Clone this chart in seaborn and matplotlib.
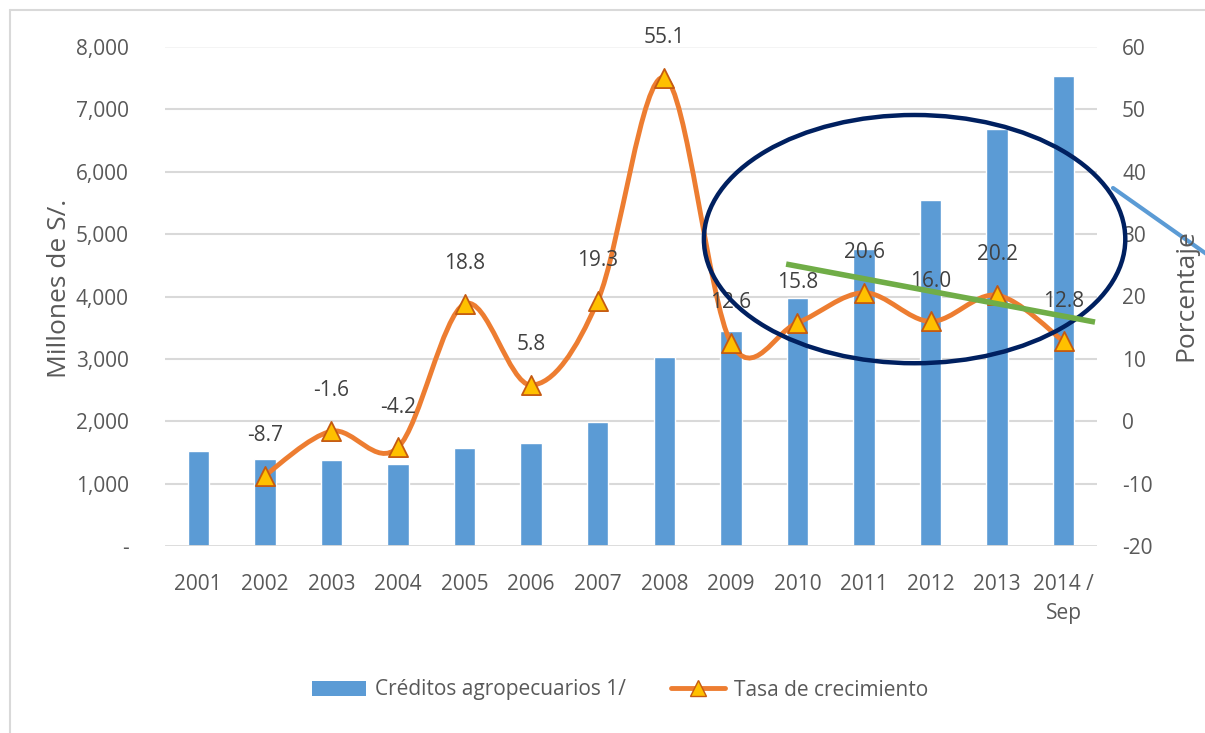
import numpy as np
import matplotlib
matplotlib.use("Agg")
import matplotlib.pyplot as plt
from matplotlib.path import Path
from matplotlib.patches import PathPatch, Ellipse, Patch
from matplotlib.lines import Line2D
from matplotlib import font_manager
import seaborn as sns

# ── data ──────────────────────────────────────────────────────────
years = ["2001", "2002", "2003", "2004", "2005", "2006", "2007",
         "2008", "2009", "2010", "2011", "2012", "2013", "2014 /\nSep"]
creditos = [1530, 1400, 1375, 1320, 1570, 1650, 1980,
            3030, 3440, 3980, 4760, 5540, 6680, 7530]
tasa = [None, -8.7, -1.6, -4.2, 18.8, 5.8, 19.3,
        55.1, 12.6, 15.8, 20.6, 16.0, 20.2, 12.8]
left_ticks = [0, 1000, 2000, 3000, 4000, 5000, 6000, 7000, 8000]
left_labels = ["-", "1,000", "2,000", "3,000", "4,000",
               "5,000", "6,000", "7,000", "8,000"]
right_ticks = [-20, -10, 0, 10, 20, 30, 40, 50, 60]

BLUE   = "#5B9BD5"
ORANGE = "#ED7D31"
GOLD   = "#FFC000"
EDGE   = "#C55A11"
NAVY   = "#002060"
GREEN  = "#70AD47"
GRID   = "#D9D9D9"
TXT    = "#595959"
LBL    = "#404040"

sns.set_theme(style="white")
installed = {f.name for f in font_manager.fontManager.ttflist}
fam = [f for f in ["Liberation Sans Narrow", "Open Sans", "DejaVu Sans"] if f in installed]
plt.rcParams["font.family"] = fam
plt.rcParams["axes.unicode_minus"] = False

W, H = 1205, 733
fig = plt.figure(figsize=(W / 100, H / 100), dpi=100)
ax = fig.add_axes([165 / W, 1 - 546 / H, (1097 - 165) / W, (546 - 47) / H])

# ── bars ──────────────────────────────────────────────────────────
xs = np.arange(len(years))
sns.barplot(x=xs, y=creditos, color=BLUE, width=0.32, saturation=1,
            ax=ax, zorder=2)
ax.set_xlim(-0.5, len(years) - 0.5)
ax.set_ylim(0, 8000)
ax.set_yticks(left_ticks)
ax.set_yticklabels(left_labels)
ax.set_xticks(xs)
ax.set_xticklabels(years, linespacing=1.5)
ax.tick_params(axis="y", colors=TXT, labelsize=15, length=0, pad=26)
ax.tick_params(axis="x", colors=TXT, labelsize=15, length=0, pad=20)
for y in left_ticks[1:-1]:
    ax.axhline(y, color=GRID, lw=1.5, zorder=0)
ax.axhline(8000, color="#F2F2F2", lw=1.2, zorder=0)
ax.axhline(0, color=GRID, lw=2, zorder=3)
for s in ax.spines.values():
    s.set_visible(False)
ax.set_xlabel("")
ax.set_ylabel("")

# ── growth-rate line on secondary axis ─────────────────────────────
ax2 = ax.twinx()
ax2.set_ylim(-20, 60)
ax2.set_yticks(right_ticks)
ax2.tick_params(axis="y", colors=TXT, labelsize=15, length=0, pad=18)
for s in ax2.spines.values():
    s.set_visible(False)
ax2.grid(False)

px = np.array([x for x, v in zip(xs, tasa) if v is not None], float)
py = np.array([v for v in tasa if v is not None], float)
# Excel-style smoothed line: cubic Bezier segments through the points
verts = [(px[0], py[0])]
codes = [Path.MOVETO]
n = len(px)
for i in range(n - 1):
    p0 = np.array([px[max(i - 1, 0)], py[max(i - 1, 0)]])
    p1 = np.array([px[i], py[i]])
    p2 = np.array([px[i + 1], py[i + 1]])
    p3 = np.array([px[min(i + 2, n - 1)], py[min(i + 2, n - 1)]])
    c1 = p1 + (p2 - p0) / 6
    c2 = p2 - (p3 - p1) / 6
    verts += [tuple(c1), tuple(c2), tuple(p2)]
    codes += [Path.CURVE4] * 3
ax2.add_patch(PathPatch(Path(verts, codes), fill=False, edgecolor=ORANGE,
                        lw=3.5, capstyle="round", zorder=4))
sns.scatterplot(x=px, y=py, marker="^", s=190, color=GOLD, edgecolor=EDGE,
                linewidth=1.3, ax=ax2, zorder=5)
for x, v in zip(px, py):
    ax2.annotate(f"{v:.1f}", (x, v), xytext=(0, 29), textcoords="offset points",
                 ha="center", va="center", fontsize=15, color=LBL, zorder=6)

# ── highlights ────────────────────────────────────────────────────
ax2.add_patch(Ellipse((10.76, 29.2), 6.33, 39.8, fill=False, edgecolor=NAVY,
                      lw=3.2, zorder=7, clip_on=False))
ax2.plot([8.83, 13.47], [25.2, 15.9], color=GREEN, lw=4, zorder=8,
         solid_capstyle="butt", clip_on=False)
fig.add_artist(Line2D([1113 / W, 1215 / W], [1 - 188 / H, 1 - 260 / H],
                      color=BLUE, lw=3))

# ── frame, axis titles, legend ───────────────────────────────────
fig.add_artist(Line2D([10 / W, 10 / W], [0, 1 - 10 / H], color=GRID, lw=1.5))
fig.add_artist(Line2D([10 / W, 1], [1 - 10 / H, 1 - 10 / H], color=GRID, lw=1.5))
fig.text(60 / W, 1 - 288 / H, "Millones de S/.", rotation=90, ha="center",
         va="center", fontsize=19, color=TXT)
fig.text(1186 / W, 1 - 295 / H, "Porcentaje", rotation=90, ha="center",
         va="center", fontsize=19, color=TXT)

handles = [Patch(facecolor=BLUE, edgecolor="none"),
           Line2D([0], [0], color=ORANGE, lw=3.5, marker="^", markersize=12,
                  markerfacecolor=GOLD, markeredgecolor=EDGE)]
fig.legend(handles, ["Créditos agropecuarios 1/", "Tasa de crecimiento"],
           loc="center", bbox_to_anchor=(620 / W, 1 - 690 / H), ncol=2,
           frameon=False, fontsize=15, labelcolor=TXT, columnspacing=2.2,
           handlelength=2.6, handletextpad=0.4)

fig.savefig("out.png", dpi=100, facecolor="white")
